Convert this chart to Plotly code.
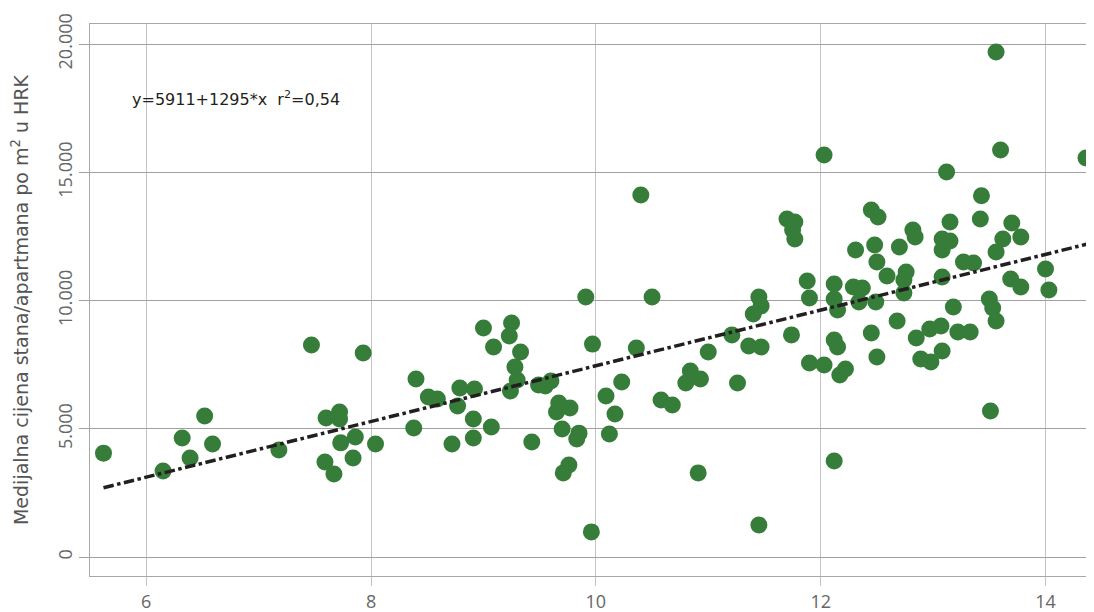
import plotly.graph_objects as go

# x values (horizontal axis) and median price per m2 in HRK
x_vals = [
    5.62, 6.15, 6.32, 6.39, 6.52, 6.59, 7.18, 7.47, 7.93, 7.60, 7.72, 7.72, 7.86, 7.73, 8.04, 7.59, 7.84, 7.67,
    8.40, 8.38, 8.51, 8.59, 8.79, 8.92, 8.77, 8.91, 9.07, 8.72, 8.91, 9.00, 9.25, 9.23, 9.09, 9.33, 9.28, 9.30,
    9.24, 9.43, 9.49, 9.60, 9.55, 9.67, 9.65, 9.77, 9.70, 9.85, 9.83, 9.76, 9.71, 9.91, 9.96, 9.97, 10.09, 10.17,
    10.12, 10.23, 10.36, 10.40, 10.50, 10.58, 10.68, 10.84, 10.80, 10.93, 10.91, 11.00,
    11.21, 11.26, 11.36, 11.47, 11.45, 11.47, 11.40, 11.70, 11.77, 11.75, 11.77, 11.74, 11.45, 11.88, 11.90, 12.03,
    12.12, 12.12, 12.12, 12.15, 12.12, 12.15, 11.90, 12.03, 12.17, 12.22, 12.29, 12.37, 12.34, 12.49, 12.31, 12.48,
    12.50, 12.59, 12.45, 12.51, 12.45, 12.50, 12.68, 12.70, 12.76, 12.74, 12.74, 12.82, 12.84, 12.85, 12.97, 13.07,
    12.89, 12.98, 13.08, 13.08, 13.08, 13.15, 13.08, 13.15, 13.12, 13.22, 13.33, 13.18, 13.27, 13.36, 13.43, 13.42,
    13.50, 13.53, 13.56, 13.51, 13.56, 13.56, 13.60, 13.62, 13.69, 13.70, 13.78, 13.78, 14.00, 14.03, 14.36,
]
price_vals = [
    4050, 3350, 4640, 3860, 5500, 4410, 4170, 8270, 7950, 5420, 5650, 5380, 4680, 4450, 4410, 3700, 3860, 3240,
    6940, 5030, 6240, 6160, 6590, 6550, 5890, 5380, 5070, 4410, 4640, 8930, 9120, 8620, 8190, 7990, 7410, 6900,
    6470, 4480, 6710, 6860, 6670, 6000, 5650, 5810, 4990, 4830, 4600, 3590, 3280, 10140, 980, 8300, 6280, 5580,
    4800, 6820, 8150, 14110, 10140, 6120, 5930, 7250, 6780, 6940, 3280, 7990,
    8660, 6780, 8230, 8190, 10140, 9790, 9470, 13180, 13060, 12750, 12400, 8660, 1250, 10760, 10100, 15670,
    3740, 10640, 10060, 9630, 8460, 8190, 7560, 7490, 7100, 7330, 10530, 10490, 9940, 9940, 11970, 12160,
    11500, 10960, 13530, 13260, 8730, 7800, 9200, 12090, 11110, 10800, 10290, 12750, 12480, 8540, 8890, 9010,
    7720, 7600, 8030, 10920, 12400, 12320, 11970, 13060, 15010, 8770, 8770, 9750, 11500, 11460, 14080, 13180,
    10060, 9710, 9200, 5690, 19690, 11890, 15870, 12400, 10840, 13020, 12480, 10530, 11230, 10410, 15560,
]

# regression line as drawn (end points)
trend_x = [5.62, 14.37]
trend_y = [2700, 12200]

x_ticks = [6, 8, 10, 12, 14]
y_ticks = [0, 5000, 10000, 15000, 20000]
y_title = "Medijalna cijena stana/apartmana po m<sup>2</sup> u HRK"
eq_text = "y=5911+1295*x  r<sup>2</sup>=0,54"

fig = go.Figure()
fig.add_trace(go.Scatter(
    x=x_vals, y=price_vals, mode="markers",
    marker=dict(color="#367d3a", size=17, line=dict(width=0)),
    showlegend=False, cliponaxis=False,
))
fig.add_trace(go.Scatter(
    x=trend_x, y=trend_y, mode="lines",
    line=dict(color="#231f20", width=3.5, dash="dashdot"),
    showlegend=False,
))

fig.add_annotation(
    x=5.86, y=17860, xref="x", yref="y", xanchor="left", yanchor="middle",
    text=eq_text, showarrow=False,
    font=dict(family="DejaVu Sans", size=16, color="#231f20"),
)

tick_font = dict(family="Open Sans", size=18, color="#666666")
fig.update_xaxes(
    range=[5.5, 14.36], tickvals=x_ticks, automargin=False,
    showgrid=True, gridcolor="#c4c4c4", gridwidth=1,
    ticks="outside", ticklen=9, tickcolor="#c4c4c4",
    showline=True, linecolor="#a8a8a8", mirror=True, zeroline=False,
    tickfont=tick_font,
)
fig.update_yaxes(
    range=[-740, 20780], tickvals=y_ticks, tickformat=",d", tickangle=-90,
    showgrid=True, gridcolor="#a0a0a0", gridwidth=1,
    ticks="outside", ticklen=10, tickcolor="#a0a0a0",
    showline=True, linecolor="#a8a8a8", mirror=True, zeroline=False,
    tickfont=tick_font,
    title=dict(text=y_title, standoff=20,
               font=dict(family="DejaVu Sans", size=19, color="#555555")),
)

# the page adds an 8px body margin, so the figure is sized to fit inside it
fig.update_layout(
    width=1078, height=604,
    margin=dict(l=82, r=0, t=16, b=36),
    plot_bgcolor="white", paper_bgcolor="white",
    separators=",.",
)

fig.write_html("out.html")
